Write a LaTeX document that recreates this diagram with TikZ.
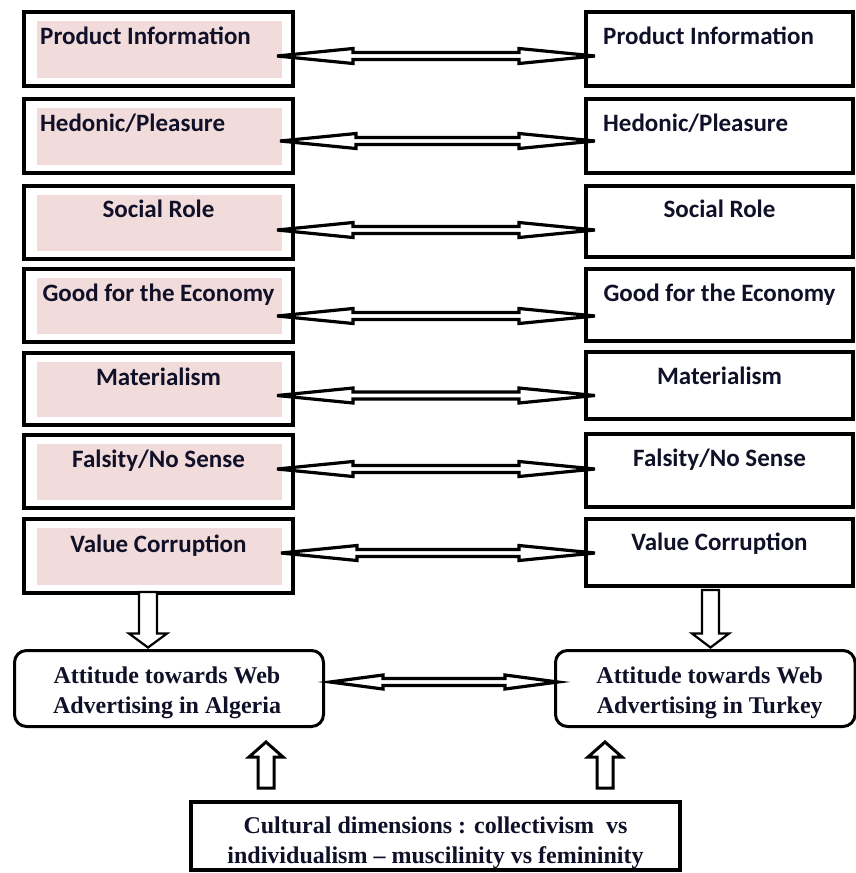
\documentclass[tikz,border=0pt]{standalone}
\usepackage{fontspec}
\setmainfont{Liberation Serif}
\newfontfamily\calib{Carlito}
\usetikzlibrary{calc}
\definecolor{pinkfill}{HTML}{F2DCDB}
\definecolor{txt}{HTML}{101028}
\newcommand\dblblockarrow[6]{% #1 left tip, #2 right tip, #3 head len, #4 head half, #5 shaft half, #6 style
  \draw[#6] let \p1=(#1), \p2=(#2) in
    (\x1,\y1) -- (\x1+#3pt,\y1+#4pt) -- (\x1+#3pt,\y1+#5pt) -- (\x2-#3pt,\y1+#5pt)
    -- (\x2-#3pt,\y1+#4pt) -- (\x2,\y1) -- (\x2-#3pt,\y1-#4pt) -- (\x2-#3pt,\y1-#5pt)
    -- (\x1+#3pt,\y1-#5pt) -- (\x1+#3pt,\y1-#4pt) -- cycle;}
\newcommand\blockdown[6]{% #1 start, #2 tip, #3 head len, #4 head half, #5 shaft half, #6 style
  \draw[#6] let \p1=(#1), \p2=(#2) in
    (\x2-#5pt,\y1) -- (\x2-#5pt,\y2+#3pt) -- (\x2-#4pt,\y2+#3pt) -- (\x2,\y2)
    -- (\x2+#4pt,\y2+#3pt) -- (\x2+#5pt,\y2+#3pt) -- (\x2+#5pt,\y1) -- cycle;}
\newcommand\blockup[6]{%
  \draw[#6] let \p1=(#1), \p2=(#2) in
    (\x2-#5pt,\y1) -- (\x2-#5pt,\y2-#3pt) -- (\x2-#4pt,\y2-#3pt) -- (\x2,\y2)
    -- (\x2+#4pt,\y2-#3pt) -- (\x2+#5pt,\y2-#3pt) -- (\x2+#5pt,\y1) -- cycle;}
\tikzset{
  lbox/.style={draw, line width=4pt, minimum width=269pt, minimum height=74pt, inner sep=0pt, outer sep=0pt},
  rbox/.style={draw, line width=4pt, minimum width=267pt, inner sep=0pt, outer sep=0pt},
  attbox/.style={draw, line width=3pt, rounded corners=12pt, inner sep=0pt, outer sep=0pt, minimum height=76pt},
  culbox/.style={draw, line width=3.5pt, inner sep=0pt, outer sep=0pt, minimum width=489pt, minimum height=68pt},
  lbl/.style={font=\calib\bfseries\fontsize{25}{29}\selectfont, text=txt, inner sep=0pt},
  serif/.style={font=\bfseries\fontsize{24}{30}\selectfont, text=txt, inner sep=0pt},
  harr/.style={draw=black, fill=white, line width=3.2pt},
  varr/.style={draw=black, fill=white, line width=2.2pt},
  uarr/.style={draw=black, fill=white, line width=3pt},
}
\begin{document}
\begin{tikzpicture}[x=1pt,y=-1pt]
\useasboundingbox (0,0) rectangle (856,873);
% left column
\node[lbox] (L1) at (158.5,49) {};
\node[lbox] (L2) at (158.5,136) {};
\node[lbox, minimum height=73pt] (L3) at (158.5,222.5) {};
\node[lbox, minimum height=73pt] (L4) at (158.5,305.5) {};
\node[lbox, minimum height=72pt] (L5) at (158.5,389) {};
\node[lbox, minimum height=73pt] (L6) at (158.5,471.5) {};
\node[lbox] (L7) at (158.5,556) {};
\foreach \k in {1,...,7}{
  \fill[pinkfill] ($(L\k.north west)+(13,9)$) rectangle ($(L\k.south east)+(-11,-8)$);
}
% right column
\node[rbox, minimum height=74pt] (R1) at (719.5,49) {};
\node[rbox, minimum height=74pt] (R2) at (719.5,136) {};
\node[rbox, minimum height=71pt] (R3) at (719.5,221.5) {};
\node[rbox, minimum height=72pt] (R4) at (719.5,305) {};
\node[rbox, minimum height=67pt] (R5) at (719.5,385.5) {};
\node[rbox, minimum height=73pt] (R6) at (719.5,470.5) {};
\node[rbox, minimum height=67pt] (R7) at (719.5,552.5) {};
% labels
\node[lbl, anchor=base west] (tL1) at ($(L1.north west)+(16,32)$) {Product Information};
\node[lbl, anchor=base west] (tL2) at ($(L2.north west)+(16,32)$) {Hedonic/Pleasure};
\node[lbl, anchor=base] (tL3) at ($(L3.north)+(0,31)$) {Social Role};
\node[lbl, anchor=base] (tL4) at ($(L4.north)+(0,32)$) {Good for the Economy};
\node[lbl, anchor=base] (tL5) at ($(L5.north)+(0,32)$) {Materialism};
\node[lbl, anchor=base] (tL6) at ($(L6.north)+(0,32)$) {Falsity/No Sense};
\node[lbl, anchor=base] (tL7) at ($(L7.north)+(0,33)$) {Value Corruption};
\node[lbl, anchor=base west] (tR1) at ($(R1.north west)+(17,32)$) {Product Information};
\node[lbl, anchor=base west] (tR2) at ($(R2.north west)+(17,32)$) {Hedonic/Pleasure};
\node[lbl, anchor=base] (tR3) at ($(R3.north)+(0,31)$) {Social Role};
\node[lbl, anchor=base] (tR4) at ($(R4.north)+(0,32)$) {Good for the Economy};
\node[lbl, anchor=base] (tR5) at ($(R5.north)+(0,32)$) {Materialism};
\node[lbl, anchor=base] (tR6) at ($(R6.north)+(0,32)$) {Falsity/No Sense};
\node[lbl, anchor=base] (tR7) at ($(R7.north)+(0,31)$) {Value Corruption};
% attitude boxes
\node[attbox, minimum width=309pt] (A) at (169,688.5) {};
\node[attbox, minimum width=299.5pt] (T) at (705.25,688.5) {};
\node[serif, anchor=base] (tA) at ($(A.north)+(-2,32.5)$) {\begin{tabular}[t]{@{}c@{}}Attitude towards Web\\ Advertising in Algeria\end{tabular}};
\node[serif, anchor=base] (tT) at ($(T.north)+(4.5,32.5)$) {\begin{tabular}[t]{@{}c@{}}Attitude towards Web\\ Advertising in Turkey\end{tabular}};
% cultural box
\node[culbox] (C) at (435.5,836) {};
\node[serif, anchor=base] (tC) at ($(C.north)+(0,31)$) {\begin{tabular}[t]{@{}c@{}}Cultural dimensions : collectivism\ \ vs\\ individualism -- muscilinity vs femininity\end{tabular}};
% horizontal double arrows
\coordinate (aL1) at ($(L1.east)+(-16,7)$);
\coordinate (aL2) at ($(L2.east)+(-13,5)$);
\coordinate (aL3) at ($(L3.east)+(-16,7.5)$);
\coordinate (aL4) at ($(L4.east)+(-16,10.5)$);
\coordinate (aL5) at ($(L5.east)+(-16,6.5)$);
\coordinate (aL6) at ($(L6.east)+(-16,-2.5)$);
\coordinate (aL7) at ($(L7.east)+(-12,-3)$);
\foreach \k in {1,...,7}{
  \coordinate (aR\k) at ($(R\k.west |- aL\k)+(9,0)$);
  \dblblockarrow{aL\k}{aR\k}{76}{7.5}{3.5}{harr}
}
% attitude double arrow
\coordinate (aA) at ($(A.east)+(6.5,-6.5)$);
\coordinate (aT) at ($(T.west |- aA)+(2.5,0)$);
\dblblockarrow{aA}{aT}{53}{7}{3.5}{harr}
% down arrows
\coordinate (dA0) at ($(L7.south)+(-10.5,-1)$);
\coordinate (dA1) at ($(dA0 |- A.north)+(0,-3)$);
\blockdown{dA0}{dA1}{14}{19}{9}{varr}
\coordinate (dT0) at ($(R7.south)+(-9,4)$);
\coordinate (dT1) at ($(dT0 |- T.north)+(0,-3)$);
\blockdown{dT0}{dT1}{14}{18.5}{8.5}{varr}
% up arrows
\coordinate (uA0) at ($(C.north west)+(75,-14)$);
\coordinate (uA1) at ($(uA0 |- A.south)+(0,15.5)$);
\blockup{uA0}{uA1}{15}{17}{8}{uarr}
\coordinate (uT0) at ($(C.north west)+(414,-14)$);
\coordinate (uT1) at ($(uT0 |- T.south)+(0,15.5)$);
\blockup{uT0}{uT1}{15}{17}{8}{uarr}
\end{tikzpicture}
\end{document}
